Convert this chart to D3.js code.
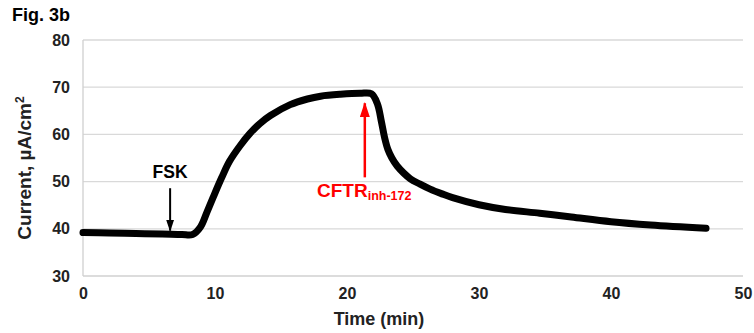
<!DOCTYPE html>
<html>
<head>
<meta charset="utf-8">
<script src="https://cdn.jsdelivr.net/npm/d3@7"></script>
<style>
  body { margin: 0; background: #fff; }
  text { font-family: "Liberation Sans", Arial, sans-serif; font-weight: bold; }
</style>
</head>
<body>
<svg id="chart"></svg>
<script>
// time (min) and short-circuit current (uA/cm2)
const timeMin = [0, 2, 4, 6, 7.5, 8.3, 8.9, 9.4, 9.85, 10.5, 11.1, 11.9, 12.65, 13.4, 14.2, 15.7, 17, 18, 19.5, 21, 21.85,
                 22.3, 22.6, 22.85, 23.1, 23.4, 23.8, 24.3, 24.8, 25.5, 26.3, 27.2, 28, 30, 32, 34.6, 37, 40, 43, 47.2]
const current = [39.2, 39.1, 39.0, 38.9, 38.8, 38.8, 40.4, 43.6, 46.6, 50.8, 54.3, 57.6, 60.2, 62.3, 64, 66.3, 67.5, 68.1, 68.5, 68.7, 68.6,
                 66.5, 62.8, 59.3, 56.8, 55.0, 53.3, 51.8, 50.6, 49.5, 48.4, 47.4, 46.6, 45.1, 44.1, 43.3, 42.5, 41.5, 40.8, 40.1]
const xTicks = [0, 10, 20, 30, 40, 50]
const yTicks = [30, 40, 50, 60, 70, 80]
const annotations = [
    { label: "FSK", sub: "", time: 6.6, from: 48.6, to: 39.6, color: "#000" },
    { label: "CFTR", sub: "inh-172", time: 21.35, from: 50.9, to: 66.6, color: "#ff0000" }
]

const svgDimensions = { width: 754, height: 333 }
const margin = { left: 83, right: 11, top: 40, bottom: 57 }

const svg = d3.select("#chart")
    .attr("width", svgDimensions.width)
    .attr("height", svgDimensions.height)

const x = d3.scaleLinear().domain([0, 50]).range([margin.left, svgDimensions.width - margin.right])
const y = d3.scaleLinear().domain([30, 80]).range([svgDimensions.height - margin.bottom, margin.top])

// gridlines
svg.append("g")
    .selectAll("line")
    .data(yTicks)
    .enter()
    .append("line")
    .attr("x1", x(0))
    .attr("x2", x(50))
    .attr("y1", d => y(d))
    .attr("y2", d => y(d))
    .attr("stroke", d => d === 30 ? "#d0d0d0" : "#d9d9d9")
    .attr("stroke-width", 1.3)

// left axis line
svg.append("line")
    .attr("x1", x(0)).attr("x2", x(0))
    .attr("y1", y(30)).attr("y2", y(80))
    .attr("stroke", "#d0d0d0")
    .attr("stroke-width", 1.3)

const yAxis = d3.axisLeft(y).tickValues(yTicks).tickSize(0).tickPadding(13)
svg.append("g")
    .attr("transform", `translate(${x(0)},0)`)
    .call(yAxis)
    .call(g => g.select(".domain").remove())
    .selectAll("text")
    .attr("font-size", 16)
    .attr("fill", "#222")

const xAxis = d3.axisBottom(x).tickValues(xTicks).tickSize(0).tickPadding(12)
svg.append("g")
    .attr("transform", `translate(0,${y(30)})`)
    .call(xAxis)
    .call(g => g.select(".domain").remove())
    .selectAll("text")
    .attr("font-size", 16)
    .attr("fill", "#222")

// the trace
svg.append("path")
    .datum(timeMin.map((t, i) => [t, current[i]]))
    .attr("d", d3.line()
        .x(d => x(d[0]))
        .y(d => y(d[1]))
        .curve(d3.curveCatmullRom.alpha(0.5)))
    .attr("fill", "none")
    .attr("stroke", "#000")
    .attr("stroke-width", 7)
    .attr("stroke-linecap", "round")
    .attr("stroke-linejoin", "round")

// arrows + labels
const defs = svg.append("defs")
annotations.forEach((a, i) => {
    defs.append("marker")
        .attr("id", "head" + i)
        .attr("viewBox", "0 0 12 8")
        .attr("refX", 11).attr("refY", 4)
        .attr("markerWidth", 6).attr("markerHeight", 4)
        .attr("markerUnits", "strokeWidth")
        .attr("orient", "auto")
        .append("path")
        .attr("d", "M0,0 L12,4 L0,8 z")
        .attr("fill", a.color)

    svg.append("line")
        .attr("x1", x(a.time)).attr("x2", x(a.time))
        .attr("y1", y(a.from)).attr("y2", y(a.to))
        .attr("stroke", a.color)
        .attr("stroke-width", i === 0 ? 2 : 2.5)
        .attr("marker-end", `url(#head${i})`)
})

svg.append("text")
    .attr("x", x(annotations[0].time))
    .attr("y", y(annotations[0].from) - 10)
    .attr("text-anchor", "middle")
    .attr("font-size", 17.5)
    .attr("fill", "#000")
    .text("FSK")

const cftr = svg.append("text")
    .attr("x", 317)
    .attr("y", y(annotations[1].from) + 20)
    .attr("font-size", 19)
    .attr("fill", "#ff0000")
cftr.append("tspan").text(annotations[1].label)
cftr.append("tspan").attr("font-size", 12.5).attr("dy", 3).text(annotations[1].sub)

// titles
svg.append("text")
    .attr("x", 12).attr("y", 21)
    .attr("font-size", 18)
    .attr("fill", "#000")
    .text("Fig. 3b")

svg.append("text")
    .attr("x", 379).attr("y", 325)
    .attr("text-anchor", "middle")
    .attr("font-size", 18)
    .attr("fill", "#222")
    .text("Time (min)")

const yt = svg.append("text")
    .attr("transform", `translate(31,168) rotate(-90)`)
    .attr("text-anchor", "middle")
    .attr("font-size", 19)
    .attr("fill", "#222")
yt.append("tspan").text("Current, µA/cm")
yt.append("tspan").attr("font-size", 12).attr("dy", -7).text("2")
</script>
</body>
</html>
